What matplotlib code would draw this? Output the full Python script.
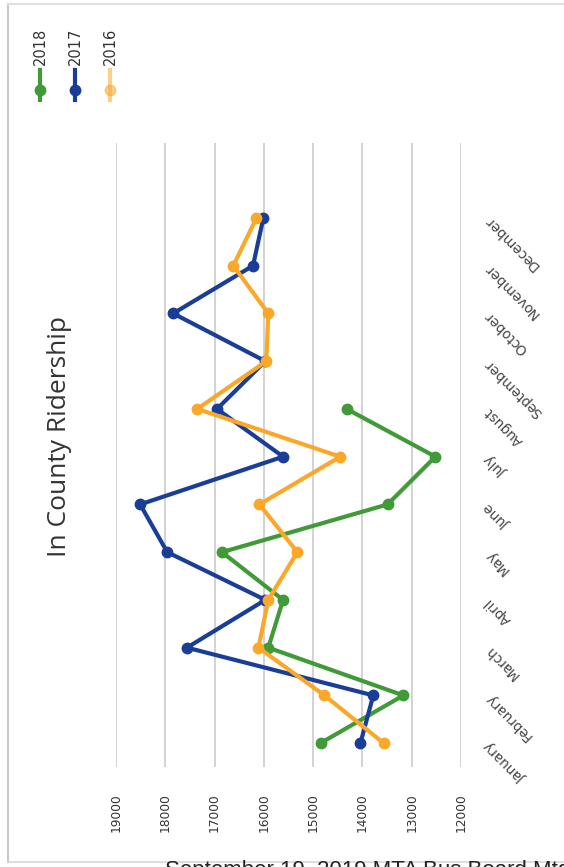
import matplotlib
matplotlib.use("Agg")
import matplotlib.pyplot as plt
from matplotlib.lines import Line2D

months = ["January", "February", "March", "April", "May", "June",
          "July", "August", "September", "October", "November", "December"]
ridership_2018 = [14850, 13170, 15910, 15610, 16850, 13490, 12520, 14320]
ridership_2017 = [14040, 13780, 17560, 15970, 17960, 18510, 15610, 16950,
                  15970, 17840, 16220, 16010]
ridership_2016 = [13570, 14770, 16110, 15910, 15320, 16090, 14450, 17350,
                  15950, 15910, 16620, 16150]
value_ticks = [19000, 18000, 17000, 16000, 15000, 14000, 13000, 12000]

series = [("2018", ridership_2018, "#3f9a37"),
          ("2017", ridership_2017, "#1a3d98"),
          ("2016", ridership_2016, "#fba82a")]

W, H = 564, 867
fig = plt.figure(figsize=(W / 100, H / 100), dpi=100)
fig.patch.set_facecolor("white")

def fx(px):
    return px / W

def fy(py):
    return 1 - py / H

# page frame
fig.add_artist(Line2D([fx(8), fx(8)], [fy(4), fy(862)], color="#c8c8c8", lw=1.5))
fig.add_artist(Line2D([fx(8), 1], [fy(4), fy(4)], color="#e0e0e0", lw=1.5))
fig.add_artist(Line2D([fx(8), 1], [fy(862), fy(862)], color="#d8d8d8", lw=1.2))

ax = fig.add_axes([fx(116), fy(767), fx(461) - fx(116), fy(143) - fy(767)])
ax.set_xlim(19000, 12000)
ax.set_ylim(-0.5, 12.57)
for s in ax.spines.values():
    s.set_visible(False)
ax.set_xticks(value_ticks)
ax.set_xticklabels([str(v) for v in value_ticks], rotation=90,
                   fontsize=8.8, color="#333333", family="DejaVu Sans")
ax.tick_params(axis="x", length=0, pad=19)
ax.set_yticks([])
ax.grid(axis="x", color="#cfcfcf", lw=1.3)
ax.set_axisbelow(True)

for name, vals, col in series:
    ax.plot(vals, range(len(vals)), color=col, lw=3, marker="o",
            markersize=7.5, solid_capstyle="round", zorder=3)

# month labels beside the category axis
for i, m in enumerate(months):
    ax.text(1.075, i, m, transform=ax.get_yaxis_transform(), rotation=135,
            rotation_mode="anchor", ha="right", va="center",
            fontsize=9.8, color="#444444", family="DejaVu Sans")

ax.text(-0.165, 0.53, "In County Ridership", transform=ax.transAxes,
        rotation=90, ha="center", va="center", fontsize=19,
        color="#333333", family="Open Sans")

# legend
for k, (name, vals, col) in enumerate(series):
    x = fx(40 + 35 * k)
    fig.add_artist(Line2D([x, x], [fy(70), fy(100)], color=col, lw=3,
                          alpha=1 if k < 2 else 0.55))
    fig.add_artist(Line2D([x], [fy(90)], color=col, marker="o", markersize=7.5,
                          alpha=1 if k < 2 else 0.55))
    fig.text(x, fy(65), name, rotation=90, ha="center", va="bottom",
             fontsize=10.5, color="#333333", family="DejaVu Sans")

fig.text(fx(165), fy(860), "September 19, 2019 MTA Bus Board Mtg",
         ha="left", va="top", fontsize=16, color="#222222",
         family="Liberation Sans")

fig.savefig("out.png", dpi=100)
